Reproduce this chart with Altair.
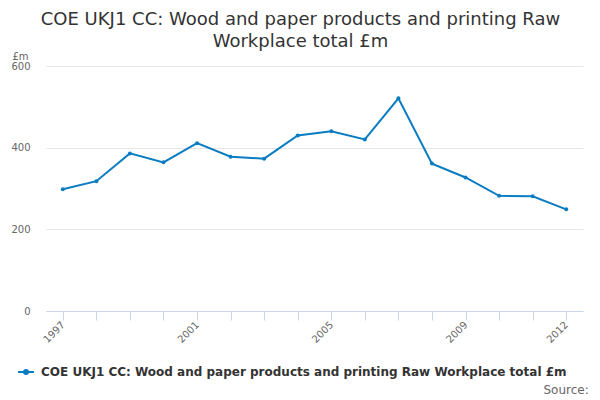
import altair as alt
import pandas as pd

years = ["1997", "1998", "1999", "2000", "2001", "2002", "2003", "2004",
         "2005", "2006", "2007", "2008", "2009", "2010", "2011", "2012"]
values = [298, 318, 386, 364, 411, 378, 373, 430,
          440, 420, 521, 361, 327, 282, 281, 249]
shown_labels = ["1997", "2001", "2005", "2009", "2012"]
y_ticks = [0, 200, 400, 600]
series_name = "COE UKJ1 CC: Wood and paper products and printing Raw Workplace total £m"
title_lines = ["COE UKJ1 CC: Wood and paper products and printing Raw", "Workplace total £m"]

color = "#0a7cc1"
font = "DejaVu Sans"

df = pd.DataFrame({"year": years, "value": values, "series": series_name})

label_expr = "indexof(" + str(shown_labels) + ", datum.label) >= 0 ? datum.label : ''"

x = alt.X("year:N",
          scale=alt.Scale(type="point", padding=0.5),
          axis=alt.Axis(title=None, labelAngle=-45, labelAlign="right", labelBaseline="middle",
                        labelExpr=label_expr, labelFont=font, labelFontSize=10, labelColor="#666666",
                        tickSize=9, tickColor="#ccd6eb", domainColor="#ccd6eb", labelPadding=3,
                        grid=False, labelOverlap=False))
y = alt.Y("value:Q",
          scale=alt.Scale(domain=[0, 600]),
          axis=alt.Axis(title="£m", titleAngle=0, titleX=-34, titleY=-7, titleAlign="left",
                        titleBaseline="alphabetic", titleFont=font, titleFontSize=10,
                        titleFontWeight="normal", titleColor="#666666",
                        values=y_ticks, labelFont=font, labelFontSize=10, labelColor="#666666",
                        labelAlign="right", labelPadding=16, ticks=False, domain=False,
                        gridColor="#e6e6e6"))

col = alt.Color("series:N",
                scale=alt.Scale(range=[color]),
                legend=alt.Legend(title=None, orient="none", legendX=-29, legendY=297,
                                  symbolType="M-1,0L1,0M-0.25,0a0.25,0.25 0 1,0 0.5,0a0.25,0.25 0 1,0 -0.5,0",
                                  symbolSize=256, symbolStrokeWidth=2, symbolStrokeColor=color,
                                  symbolFillColor=color, labelFont=font, labelFontSize=12,
                                  labelFontWeight="bold", labelColor="#333333", labelOffset=6,
                                  labelLimit=0))

line = alt.Chart(df).mark_line(strokeWidth=2).encode(x=x, y=y, color=col)
points = alt.Chart(df).mark_point(filled=True, size=16, opacity=1).encode(x=x, y=y, color=col)

source = alt.Chart(pd.DataFrame({"t": ["Source:"]})).mark_text(
    align="right", baseline="alphabetic", font=font, fontSize=12, color="#666666"
).encode(text="t:N", x=alt.value(542.7), y=alt.value(328))

chart = alt.layer(line, points, source).properties(
    width=537, height=245,
    padding={"left": 38, "top": 58, "right": 9, "bottom": 88},
    autosize=alt.AutoSizeParams(type="none"),
    title=alt.TitleParams(text=title_lines, font=font, fontSize=18, fontWeight="normal",
                          color="#333333", anchor="middle", frame="group", dx=-14,
                          offset=-14, lineHeight=22, baseline="alphabetic"),
).configure_view(stroke=None)

chart.save("out.html", embed_options={"renderer": "svg", "actions": False})
